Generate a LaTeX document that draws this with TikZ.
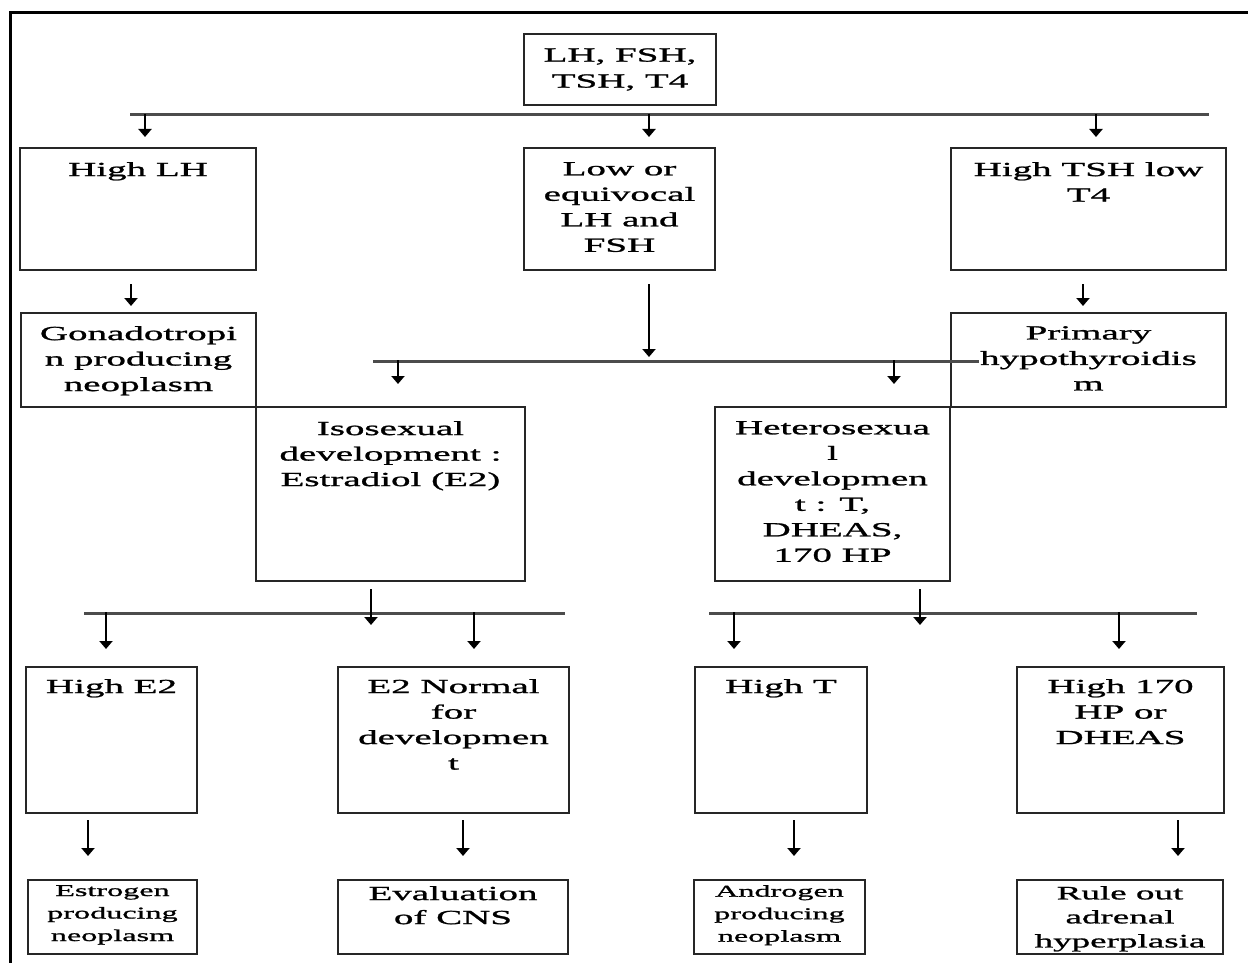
\documentclass[tikz,border=0pt]{standalone}
\usepackage{fontspec}
\setmainfont[FakeStretch=1.95,FakeBold=1.2]{Liberation Serif}
\usetikzlibrary{arrows.meta}
\tikzset{
  box/.style={draw=black!85, line width=2pt, inner sep=0pt},
  txt/.style={inner sep=0pt, align=center, anchor=north, font=\fontsize{20}{25.5}\selectfont},
  bar/.style={draw=black!70, line width=3pt},
  arr/.style={draw=black, line width=2pt, -{Triangle[width=13pt,length=8pt]}},
  frame/.style={draw=black, line width=3pt}
}
\begin{document}
\begin{tikzpicture}[x=1pt,y=-1pt]
\useasboundingbox (0,0) rectangle (1248,963);
% frame
\coordinate (fr1) at (1248,13);
\coordinate (fr2) at (10,13);
\coordinate (fr3) at (10,963);
\draw[frame] (fr1) -- (fr2) -- (fr3);

% boxes
\node[box, minimum width=192pt, minimum height=71pt, align=center, font=\fontsize{20}{26}\selectfont] (top) at (620,69.5) {LH, FSH,\\TSH, T4};
\node[box, minimum width=236pt, minimum height=122pt] (hlh) at (138,209) {};
\node[box, minimum width=191pt, minimum height=122pt] (low) at (619.5,209) {};
\node[box, minimum width=275pt, minimum height=122pt] (htsh) at (1088.5,209) {};
\node[box, minimum width=235pt, minimum height=94pt] (gon) at (138.5,360) {};
\node[box, minimum width=275pt, minimum height=94pt] (prim) at (1088.5,360) {};
\node[box, minimum width=269pt, minimum height=174pt] (iso) at (390.5,494) {};
\node[box, minimum width=235pt, minimum height=174pt] (het) at (832.5,494) {};
\node[box, minimum width=171pt, minimum height=146pt] (he2) at (111.5,740) {};
\node[box, minimum width=231pt, minimum height=146pt] (e2n) at (453.5,740) {};
\node[box, minimum width=172pt, minimum height=146pt] (ht) at (781,740) {};
\node[box, minimum width=207pt, minimum height=146pt] (h170) at (1120.5,740) {};
\node[box, minimum width=169pt, minimum height=74pt] (est) at (112.5,917) {};
\node[box, minimum width=230pt, minimum height=74pt] (eval) at (453,917) {};
\node[box, minimum width=171pt, minimum height=74pt] (andr) at (779.5,917) {};
\node[box, minimum width=206pt, minimum height=74pt] (rule) at (1120,917) {};

% texts
\node[txt] (hlh-t) at ([yshift=-15pt]hlh.north) {High LH};
\node[txt] (low-t) at ([yshift=-15pt]low.north) {Low or\\equivocal\\LH and\\FSH};
\node[txt] (htsh-t) at ([yshift=-15pt]htsh.north) {High TSH low\\T4};
\node[txt] (gon-t) at ([yshift=-14pt]gon.north) {Gonadotropi\\n producing\\neoplasm};
\node[txt] (prim-t) at ([yshift=-14pt]prim.north) {Primary\\hypothyroidis\\m};
\node[txt] (iso-t) at ([yshift=-15pt]iso.north) {Isosexual\\development :\\Estradiol (E2)};
\node[txt] (het-t) at ([yshift=-15pt]het.north) {Heterosexua\\l\\developmen\\t : T,\\DHEAS,\\170 HP};
\node[txt] (he2-t) at ([yshift=-13pt]he2.north) {High E2};
\node[txt] (e2n-t) at ([yshift=-13pt]e2n.north) {E2 Normal\\for\\developmen\\t};
\node[txt] (ht-t) at ([yshift=-13pt]ht.north) {High T};
\node[txt] (h170-t) at ([yshift=-13pt]h170.north) {High 170\\HP or\\DHEAS};
\node[txt, font=\fontsize{16.5}{22.5}\selectfont] (est-t) at ([yshift=-6pt]est.north) {Estrogen\\producing\\neoplasm};
\node[txt, font=\fontsize{20}{24}\selectfont] (eval-t) at ([yshift=-7pt]eval.north) {Evaluation\\of CNS};
\node[txt, font=\fontsize{16.5}{22.5}\selectfont] (andr-t) at ([yshift=-6pt]andr.north) {Androgen\\producing\\neoplasm};
\node[txt, font=\fontsize{19}{24}\selectfont] (rule-t) at ([yshift=-7pt]rule.north) {Rule out\\adrenal\\hyperplasia};

% bars
\coordinate (b1l) at (130,115);
\coordinate (b1r) at (1209,115);
\coordinate (b2l) at (373,361);
\coordinate (b2r) at (979,361);
\coordinate (b3l) at (84,613);
\coordinate (b3m) at (565,613);
\coordinate (b4l) at (709,613);
\coordinate (b4r) at (1197,613);
\draw[bar] (b1l) -- (b1r);
\draw[bar] (b2l) -- (b2r);
\draw[bar] (b3l) -- (b3m);
\draw[bar] (b4l) -- (b4r);

% arrows level 1
\draw[arr] ([xshift=7pt,yshift=33pt]hlh.north) -- ([xshift=7pt,yshift=10pt]hlh.north);
\draw[arr] ([xshift=29.5pt,yshift=33pt]low.north) -- ([xshift=29.5pt,yshift=10pt]low.north);
\draw[arr] ([xshift=7.5pt,yshift=33pt]htsh.north) -- ([xshift=7.5pt,yshift=10pt]htsh.north);
% level 2
\draw[arr] ([xshift=-7pt,yshift=-13pt]hlh.south) -- ([xshift=-7.5pt,yshift=6pt]gon.north);
\draw[arr] ([xshift=-5.5pt,yshift=-13pt]htsh.south) -- ([xshift=-5.5pt,yshift=6pt]prim.north);
\draw[arr] ([xshift=29.5pt,yshift=-13pt]low.south) -- ([xshift=29.5pt,yshift=-86pt]low.south);
% level 3
\draw[arr] ([xshift=7.5pt,yshift=46pt]iso.north) -- ([xshift=7.5pt,yshift=22pt]iso.north);
\draw[arr] ([xshift=61.5pt,yshift=46pt]het.north) -- ([xshift=61.5pt,yshift=22pt]het.north);
% level 4
\draw[arr] ([xshift=-19.5pt,yshift=-7pt]iso.south) -- ([xshift=-19.5pt,yshift=-43pt]iso.south);
\draw[arr] ([xshift=87.5pt,yshift=-7pt]het.south) -- ([xshift=87.5pt,yshift=-43pt]het.south);
% level 5
\draw[arr] ([xshift=-5.5pt,yshift=54pt]he2.north) -- ([xshift=-5.5pt,yshift=17pt]he2.north);
\draw[arr] ([xshift=20.5pt,yshift=54pt]e2n.north) -- ([xshift=20.5pt,yshift=17pt]e2n.north);
\draw[arr] ([xshift=-47pt,yshift=54pt]ht.north) -- ([xshift=-47pt,yshift=17pt]ht.north);
\draw[arr] ([xshift=-1.5pt,yshift=54pt]h170.north) -- ([xshift=-1.5pt,yshift=17pt]h170.north);
% level 6
\draw[arr] ([xshift=-23.5pt,yshift=-6pt]he2.south) -- ([xshift=-24.5pt,yshift=23pt]est.north);
\draw[arr] ([xshift=9.5pt,yshift=-6pt]e2n.south) -- ([xshift=10pt,yshift=23pt]eval.north);
\draw[arr] ([xshift=13pt,yshift=-6pt]ht.south) -- ([xshift=14.5pt,yshift=23pt]andr.north);
\draw[arr] ([xshift=57.5pt,yshift=-6pt]h170.south) -- ([xshift=58pt,yshift=23pt]rule.north);
\end{tikzpicture}
\end{document}
